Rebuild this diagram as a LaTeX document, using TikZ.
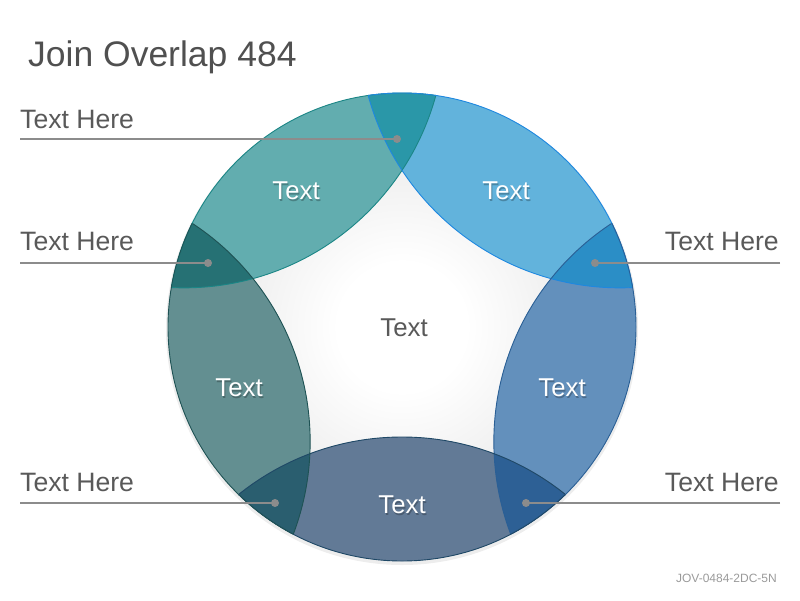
\documentclass[tikz,border=0pt]{standalone}
\usepackage{fontspec}
\setmainfont{Liberation Sans}
\usetikzlibrary{calc}
\definecolor{bgGray}{HTML}{DCDCDC}
\definecolor{bgGrayDark}{HTML}{D2D2D2}
\definecolor{fTL}{HTML}{62ADAF}
\definecolor{fTR}{HTML}{62B3DC}
\definecolor{fR}{HTML}{6390BC}
\definecolor{fB}{HTML}{627A96}
\definecolor{fL}{HTML}{638F91}
\definecolor{oTop}{HTML}{2A97A8}
\definecolor{oUR}{HTML}{2B8EC6}
\definecolor{oLR}{HTML}{2D6095}
\definecolor{oLL}{HTML}{2A5E6F}
\definecolor{oUL}{HTML}{267174}
\definecolor{lTL}{HTML}{1B8686}
\definecolor{lTR}{HTML}{1E88E0}
\definecolor{lR}{HTML}{2A5F95}
\definecolor{lB}{HTML}{1F4866}
\definecolor{lL}{HTML}{1E5254}
\definecolor{leadGray}{HTML}{8C8C8C}
\definecolor{labGray}{HTML}{595959}
\definecolor{titleGray}{HTML}{505050}
\definecolor{footGray}{HTML}{9A9A9A}
\pgfdeclareradialshading{centreglow}{\pgfpoint{0bp}{0bp}}{color(0bp)=(white); color(5bp)=(white); color(22bp)=(bgGray); color(50bp)=(bgGrayDark)}
\tikzset{
  labeltext/.style={text=labGray, font=\fontsize{26.6}{31}\selectfont, inner sep=0pt},
  segtext/.style={text=white, font=\fontsize{25.8}{30}\selectfont, inner sep=0pt},
  segshadow/.style={text=black, opacity=0.25, font=\fontsize{25.8}{30}\selectfont, inner sep=0pt},
  leader/.style={draw=leadGray, line width=2.6pt},
  leaddot/.style={fill=leadGray},
  rim/.style={line width=0.9pt},
}
\newcommand{\bigC}{(C) circle[radius=234pt]}
\begin{document}
\begin{tikzpicture}[x=1pt,y=-1pt]
\useasboundingbox (0,0) rectangle (800,600);
\coordinate (C) at (402,327);
\coordinate (cTL) at ($(C)+(-126:371)$);
\coordinate (cTR) at ($(C)+(-54:371)$);
\coordinate (cR) at ($(C)+(18:371)$);
\coordinate (cB) at ($(C)+(90:371)$);
\coordinate (cL) at ($(C)+(162:371)$);
% soft shadow
\fill[black, opacity=0.07] (402,329) circle[radius=236pt];
% center background
\begin{scope}
  \clip \bigC;
  \shade[shading=centreglow] (C) circle[radius=320pt];
\end{scope}
% lenses
\begin{scope}
  \clip \bigC;
  \fill[fTL] (cTL) circle[radius=261pt];
  \fill[fTR] (cTR) circle[radius=261pt];
  \fill[fR] (cR) circle[radius=261pt];
  \fill[fB] (cB) circle[radius=261pt];
  \fill[fL] (cL) circle[radius=261pt];
\end{scope}
% overlaps
\begin{scope}\clip \bigC; \clip (cTL) circle[radius=261pt]; \fill[oTop] (cTR) circle[radius=261pt];\end{scope}
\begin{scope}\clip \bigC; \clip (cTR) circle[radius=261pt]; \fill[oUR] (cR) circle[radius=261pt];\end{scope}
\begin{scope}\clip \bigC; \clip (cR) circle[radius=261pt]; \fill[oLR] (cB) circle[radius=261pt];\end{scope}
\begin{scope}\clip \bigC; \clip (cB) circle[radius=261pt]; \fill[oLL] (cL) circle[radius=261pt];\end{scope}
\begin{scope}\clip \bigC; \clip (cL) circle[radius=261pt]; \fill[oUL] (cTL) circle[radius=261pt];\end{scope}
% inner outlines
\begin{scope}
  \clip \bigC;
  \draw[rim, lTL] (cTL) circle[radius=261pt];
  \draw[rim, lTR] (cTR) circle[radius=261pt];
  \draw[rim, lR] (cR) circle[radius=261pt];
  \draw[rim, lB] (cB) circle[radius=261pt];
  \draw[rim, lL] (cL) circle[radius=261pt];
\end{scope}
% outer rim outlines
\begin{scope}\clip (cTL) circle[radius=261pt]; \draw[rim, lTL] \bigC;\end{scope}
\begin{scope}\clip (cTR) circle[radius=261pt]; \draw[rim, lTR] \bigC;\end{scope}
\begin{scope}\clip (cR) circle[radius=261pt]; \draw[rim, lR] \bigC;\end{scope}
\begin{scope}\clip (cB) circle[radius=261pt]; \draw[rim, lB] \bigC;\end{scope}
\begin{scope}\clip (cL) circle[radius=261pt]; \draw[rim, lL] \bigC;\end{scope}
% segment texts
\foreach \x/\y/\n in {296/191/tTL, 506/191/tTR, 562/388/tR, 402/505/tB, 239/388/tL}{
  \node[segshadow] at (\x+1,\y+1.5) {Text};
  \node[segtext] (\n) at (\x,\y) {Text};
}
\node[text=labGray, font=\fontsize{25.8}{30}\selectfont, inner sep=0pt] (tC) at (404,328) {Text};
% title
\node[anchor=west, text=titleGray, font=\fontsize{35.5}{42}\selectfont, inner sep=0pt] (title) at (28,57) {Join Overlap 484};
% labels and leaders
\node[labeltext, anchor=west] (h1) at (20,119) {Text Here};
\node[labeltext, anchor=west] (h2) at (20,241) {Text Here};
\node[labeltext, anchor=west] (h3) at (20,482) {Text Here};
\node[labeltext, anchor=east] (h4) at (779,241) {Text Here};
\node[labeltext, anchor=east] (h5) at (779,482) {Text Here};
\coordinate (e1) at (20,139); \coordinate (d1) at (397,139);
\coordinate (e2) at (20,263); \coordinate (d2) at (208,263);
\coordinate (e3) at (20,503); \coordinate (d3) at (275,503);
\coordinate (e4) at (780,263); \coordinate (d4) at (595,263);
\coordinate (e5) at (780,503); \coordinate (d5) at (526,503);
\foreach \i in {1,...,5}{
  \draw[leader] (e\i) -- (d\i);
  \fill[leaddot] (d\i) circle[radius=4pt];
}
% footer
\node[anchor=east, text=footGray, font=\fontsize{12}{14}\selectfont, inner sep=0pt] (foot) at (777,578) {JOV-0484-2DC-5N};
\end{tikzpicture}
\end{document}
